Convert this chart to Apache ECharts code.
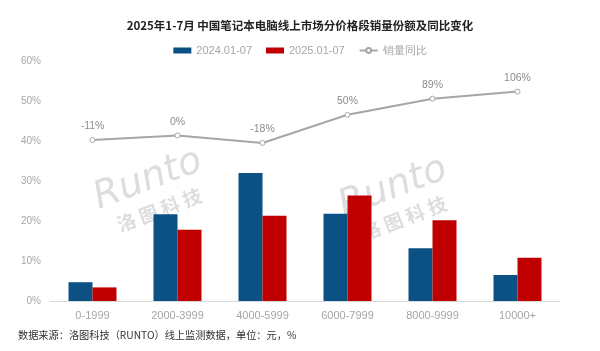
<!DOCTYPE html>
<html><head><meta charset="utf-8">
<script src="https://cdn.jsdelivr.net/npm/echarts@6/dist/echarts.min.js"></script>
<style>html,body{margin:0;padding:0;background:#fff}#c{width:600px;height:351px}</style>
</head><body><div id="c"></div>
<script>
const categories = ['0-1999','2000-3999','4000-5999','6000-7999','8000-9999','10000+'];
const share2024 = [4.7, 21.7, 32.0, 21.8, 13.2, 6.5];
const share2025 = [3.4, 17.8, 21.3, 26.4, 20.2, 10.8];
const yoyGrowth = [-11, 0, -18, 50, 89, 106];
const yTicks = [0,10,20,30,40,50,60];

const chart = echarts.init(document.getElementById('c'));
const gray = '#a6a6a6';
const fontTick = '"Liberation Sans Narrow","Liberation Sans",sans-serif';
function wm(x,y){
  return {type:'group', x:x, y:y, rotation: 0.36, silent:true, z:-1, children:[
    {type:'text', style:{text:'Runto', x:0, y:0, font:'italic 38px "DejaVu Sans",sans-serif', fill:'rgba(170,170,170,0.4)', textAlign:'center', textVerticalAlign:'middle'}},
    {type:'text', style:{text:'洛 图 科 技', x:0, y:32, font:'bold 19px "Noto Sans CJK SC",sans-serif', fill:'rgba(170,170,170,0.4)', textAlign:'center', textVerticalAlign:'middle'}}
  ]};
}
chart.setOption({
  animation:false,
  title:{text:'2025年1-7月 中国笔记本电脑线上市场分价格段销量份额及同比变化', left:'center', top:15,
    textStyle:{fontSize:11.5, fontWeight:'bold', color:'#222', fontFamily:'"Noto Sans CJK SC",sans-serif'}},
  legend:{top:40, left:'center', itemGap:14, itemWidth:18, itemHeight:6,
    textStyle:{color:gray, fontSize:11, fontFamily:fontTick},
    data:[{name:'2024.01-07', icon:'rect'},{name:'2025.01-07', icon:'rect'},{name:'销量同比'}]},
  grid:{left:50, right:40, top:61, bottom:50},
  xAxis:{type:'category', data:categories,
    axisLine:{lineStyle:{color:'#d9d9d9'}}, axisTick:{show:false},
    axisLabel:{color:gray, fontSize:11, fontFamily:fontTick, margin:9}},
  yAxis:[{type:'value', min:0, max:60, interval:10,
    axisLabel:{formatter:'{value}%', color:gray, fontSize:10, fontFamily:fontTick, margin:9},
    splitLine:{show:false}, axisLine:{show:false}, axisTick:{show:false}},
    {type:'value', min:-400, max:180, show:false, splitLine:{show:false}}],
  graphic:[wm(148,180), wm(393,188),
    {type:'text', left:18, top:330, style:{text:'数据来源：洛图科技（RUNTO）线上监测数据，单位：元，%', font:'10.2px "Noto Sans CJK SC",sans-serif', fill:'#333'}}],
  series:[
    {name:'2024.01-07', type:'bar', data:share2024, barWidth:24, barGap:'0%', itemStyle:{color:'#0b5183'}},
    {name:'2025.01-07', type:'bar', data:share2025, barWidth:24, itemStyle:{color:'#c00000'}},
    {name:'销量同比', type:'line', yAxisIndex:1, data:yoyGrowth, symbol:'circle', symbolSize:5,
      lineStyle:{color:gray, width:2}, itemStyle:{color:'#fff', borderColor:gray, borderWidth:1},
      label:{show:true, position:'top', distance:5, formatter:p=>p.value+'%', color:'#8c8c8c', fontSize:10.5, fontFamily:fontTick}}
  ]
});
</script></body></html>
